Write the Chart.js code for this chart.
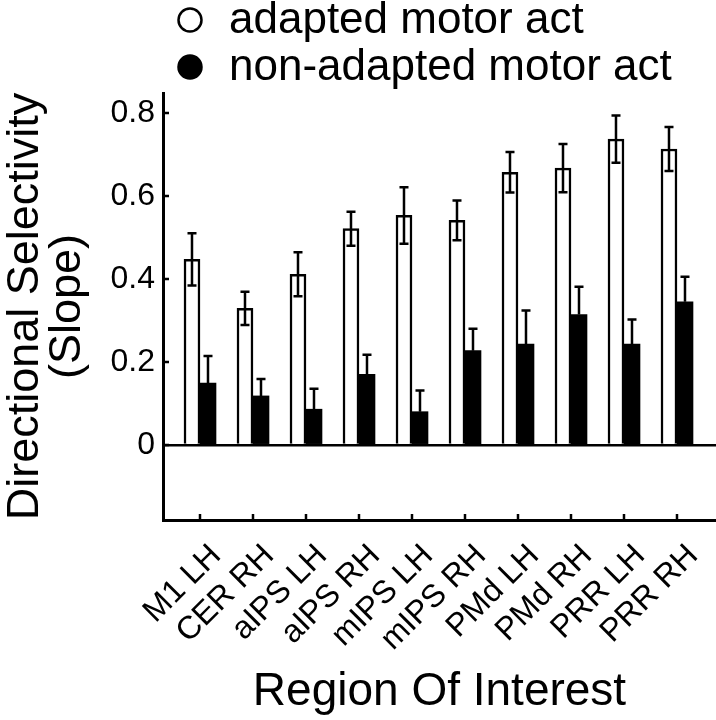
<!DOCTYPE html>
<html>
<head>
<meta charset="utf-8">
<script src="https://cdn.jsdelivr.net/npm/chart.js@4/dist/chart.umd.min.js"></script>
<style>
  body { margin: 0; background: #fff; }
  #wrap { width: 716px; height: 720px; }
</style>
</head>
<body>
<div id="wrap"><canvas id="roiChart" width="716" height="720"></canvas></div>
<script>
// data
var categories = ['M1 LH', 'CER RH', 'aIPS LH', 'aIPS RH', 'mIPS LH', 'mIPS RH', 'PMd LH', 'PMd RH', 'PRR LH', 'PRR RH'];
var adapted = [0.447, 0.329, 0.411, 0.521, 0.553, 0.541, 0.657, 0.667, 0.737, 0.713];
var adaptedErr = [0.063, 0.040, 0.053, 0.041, 0.068, 0.048, 0.049, 0.058, 0.057, 0.053];
var nonAdapted = [0.149, 0.118, 0.086, 0.170, 0.080, 0.227, 0.243, 0.314, 0.243, 0.345];
var nonAdaptedErr = [0.065, 0.041, 0.049, 0.047, 0.051, 0.053, 0.081, 0.067, 0.059, 0.060];
var yTicks = [0, 0.2, 0.4, 0.6, 0.8];

var baseFont = "'Liberation Sans', Arial, Helvetica, sans-serif";

function toPoints(values) {
    return values.map(function (v, i) { return { x: i, y: v }; });
}

// error bars: white bars get both whiskers, black ones only the upper one
var errorBars = {
    id: 'errorBars',
    afterDatasetsDraw: function (chart) {
        var ctx = chart.ctx;
        var y = chart.scales.y;
        ctx.save();
        ctx.strokeStyle = '#000';
        ctx.lineWidth = 2.5;
        chart.data.datasets.forEach(function (ds, di) {
            var meta = chart.getDatasetMeta(di);
            meta.data.forEach(function (bar, i) {
                var v = ds.data[i].y;
                var e = ds.errors[i];
                var top = y.getPixelForValue(v + e);
                var bottom = ds.bothWays ? y.getPixelForValue(v - e) : y.getPixelForValue(v);
                ctx.beginPath();
                ctx.moveTo(bar.x, top);
                ctx.lineTo(bar.x, bottom);
                ctx.moveTo(bar.x - 4.5, top);
                ctx.lineTo(bar.x + 4.5, top);
                if (ds.bothWays) {
                    ctx.moveTo(bar.x - 4.5, bottom);
                    ctx.lineTo(bar.x + 4.5, bottom);
                }
                ctx.stroke();
            });
        });
        ctx.restore();
    }
};

// tick marks pointing into the plot
var inwardTicks = {
    id: 'inwardTicks',
    afterDraw: function (chart) {
        var ctx = chart.ctx;
        var x = chart.scales.x, y = chart.scales.y;
        ctx.save();
        ctx.strokeStyle = '#000';
        ctx.lineWidth = 2.5;
        ctx.beginPath();
        y.ticks.forEach(function (t) {
            var py = y.getPixelForValue(t.value);
            ctx.moveTo(y.right, py);
            ctx.lineTo(y.right + 6, py);
        });
        x.ticks.forEach(function (t) {
            var px = x.getPixelForValue(t.value);
            ctx.moveTo(px, x.top);
            ctx.lineTo(px, x.top - 6);
        });
        ctx.stroke();
        ctx.restore();
    }
};

// legend in the top left, circles as markers
var circleLegend = {
    id: 'circleLegend',
    afterDraw: function (chart) {
        var ctx = chart.ctx;
        ctx.save();
        ctx.font = '44px ' + baseFont;
        ctx.textBaseline = 'alphabetic';
        chart.data.datasets.forEach(function (ds, i) {
            var cy = 20 + i * 47;
            ctx.beginPath();
            ctx.arc(190, cy, 11.5, 0, Math.PI * 2);
            ctx.fillStyle = ds.backgroundColor;
            ctx.fill();
            ctx.lineWidth = 2.5;
            ctx.strokeStyle = '#000';
            ctx.stroke();
            ctx.fillStyle = '#000';
            ctx.fillText(ds.label, 229, cy + 13);
        });
        ctx.restore();
    }
};

var chart = new Chart(document.getElementById('roiChart'), {
    type: 'bar',
    data: {
        datasets: [{
            label: 'adapted motor act',
            data: toPoints(adapted),
            errors: adaptedErr,
            bothWays: true,
            backgroundColor: '#ffffff',
            borderColor: '#000000',
            borderWidth: 2.5,
            barThickness: 16
        }, {
            label: 'non-adapted motor act',
            data: toPoints(nonAdapted),
            errors: nonAdaptedErr,
            bothWays: false,
            backgroundColor: '#000000',
            borderColor: '#000000',
            borderWidth: 0,
            barThickness: 16
        }]
    },
    options: {
        responsive: false,
        animation: false,
        layout: { padding: { top: 93, right: 0, left: 0, bottom: 0 } },
        plugins: {
            legend: { display: false },
            tooltip: { enabled: false }
        },
        scales: {
            x: {
                type: 'linear',
                offset: false,
                min: -0.698,
                max: 9.736,
                afterBuildTicks: function (s) {
                    s.ticks = categories.map(function (c, i) { return { value: i }; });
                },
                afterFit: function (s) { s.height = 200; },
                grid: { display: false, offset: false },
                border: { display: true, color: '#000', width: 3 },
                ticks: {
                    autoSkip: false,
                    minRotation: 45,
                    maxRotation: 45,
                    padding: 9,
                    labelOffset: 16,
                    color: '#000',
                    font: { family: baseFont, size: 32 },
                    callback: function (v) { return categories[v]; }
                },
                title: {
                    display: true,
                    text: 'Region Of Interest',
                    color: '#000',
                    font: { family: baseFont, size: 46, lineHeight: 1 },
                    padding: { top: 0, bottom: 5 }
                }
            },
            y: {
                min: -0.181,
                max: 0.848,
                afterBuildTicks: function (s) {
                    s.ticks = yTicks.map(function (v) { return { value: v }; });
                },
                afterFit: function (s) { s.width = 163; },
                grid: {
                    drawTicks: false,
                    color: function (c) { return c.tick && c.tick.value === 0 ? '#000' : 'rgba(0,0,0,0)'; },
                    lineWidth: 2.5
                },
                border: { display: true, color: '#000', width: 3 },
                ticks: {
                    padding: 8,
                    color: '#000',
                    font: { family: baseFont, size: 32 },
                    callback: function (v) { return v === 0 ? '0' : v.toFixed(1); }
                },
                title: {
                    display: true,
                    text: ['Directional Selectivity', '(Slope)'],
                    color: '#000',
                    font: { family: baseFont, size: 45, lineHeight: 0.93 },
                    padding: { top: 5, bottom: 0 }
                }
            }
        }
    },
    plugins: [errorBars, inwardTicks, circleLegend]
});
</script>
</body>
</html>
